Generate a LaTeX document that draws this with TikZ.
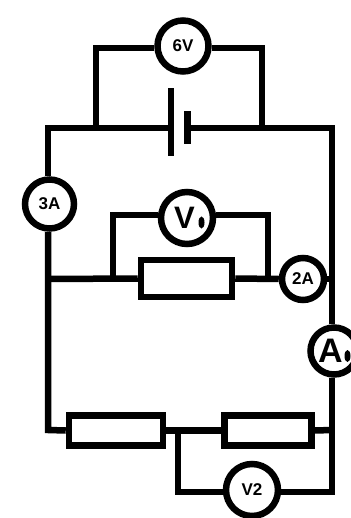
\documentclass[tikz,border=0pt]{standalone}
\usepackage{fontspec}
\setsansfont{Liberation Sans}
\tikzset{every picture/.style={/utils/exec={\sffamily}}}
\usetikzlibrary{shapes.geometric}

\tikzset{
  wire/.style={line width=6.5pt,line join=miter},
  meter/.style={circle,draw,line width=6.5pt,fill=white,inner sep=0pt,font=\fontsize{17}{17}\selectfont\bfseries},
  resistor/.style={rectangle,draw,line width=6.5pt,fill=white,inner sep=0pt},
  plate/.style={rectangle,fill=black,inner sep=0pt,minimum width=6.5pt},
  needle/.style={ellipse,fill=black,inner sep=0pt,minimum width=6pt,minimum height=12pt},
}

\begin{document}
\begin{tikzpicture}[x=1pt,y=-1pt]
  \useasboundingbox (0,0) rectangle (350,518);

  % meters
  \node[meter,minimum size=51pt] (sixv) at (183,46) {6V};
  \node[meter,minimum size=49pt] (threea) at (49.5,204) {3A};
  \node[meter,minimum size=52pt,font=\fontsize{31}{31}\selectfont\bfseries] (vone) at (187,218) {V\kern5pt};
  \node[meter,minimum size=42pt] (twoa) at (303,279) {2A};
  \node[meter,minimum size=47pt,font=\fontsize{34}{34}\selectfont\bfseries] (amp) at (334,351) {A\kern7pt};
  \node[meter,minimum size=52pt] (vtwo) at (252,490) {V2};
  \node[needle] (voneneedle) at (201.5,222.5) {};
  \node[needle] (ampneedle) at (347.5,356) {};

  % battery
  \node[plate,minimum height=68pt] (long) at (171,122) {};
  \node[plate,minimum height=33pt] (short) at (187.5,128) {};

  % resistors
  \node[resistor,minimum width=91pt,minimum height=37pt] (rtop) at (186.5,278.5) {};
  \node[resistor,minimum width=94pt,minimum height=30pt] (rleft) at (116,430.5) {};
  \node[resistor,minimum width=87pt,minimum height=30pt] (rright) at (268,430.5) {};

  % corners
  \coordinate (tl) at (48,128);
  \coordinate (tr) at (332,128);
  \coordinate (bl) at (48,430);
  \coordinate (br) at (332,430);
  \coordinate (ml) at (48,279);
  \coordinate (mr) at (332,279);
  \coordinate (sixl) at (96,48);
  \coordinate (sixr) at (262,48);
  \coordinate (sixlb) at (96,128);
  \coordinate (sixrb) at (262,128);
  \coordinate (vonel) at (113,215);
  \coordinate (voner) at (268,215);
  \coordinate (vonelb) at (113,279);
  \coordinate (vonerb) at (268,279);
  \coordinate (vtwot) at (178,430);
  \coordinate (vtwol) at (178,492);
  \coordinate (vtwor) at (332,492);

  % main loop
  \draw[wire] (long |- tl) -- (tl) -- (tl |- threea.north);
  \draw[wire] (short) -- (tr) -- (tr |- amp.north);
  \draw[wire] (tl |- threea.south) -- (bl) -- (rleft.west);
  \draw[wire] (rleft.east) -- (rright.west);
  \draw[wire] (rright.east) -- (br);
  \draw[wire] (tr |- amp.south) -- (br) -- (vtwor) -- (vtwo.east |- vtwor);

  % middle branch
  \draw[wire] (ml) -- (rtop.west);
  \draw[wire] (rtop.east) -- (twoa.west);
  \draw[wire] (twoa.east) -- (mr);
  \draw[wire] (vonelb) -- (vonel) -- (vone.west |- vonel);
  \draw[wire] (vone.east |- voner) -- (voner) -- (vonerb);

  % across battery
  \draw[wire] (sixlb) -- (sixl) -- (sixv.west |- sixl);
  \draw[wire] (sixv.east |- sixr) -- (sixr) -- (sixrb);

  % across right resistor
  \draw[wire] (vtwot) -- (vtwol) -- (vtwo.west |- vtwol);
\end{tikzpicture}
\end{document}
